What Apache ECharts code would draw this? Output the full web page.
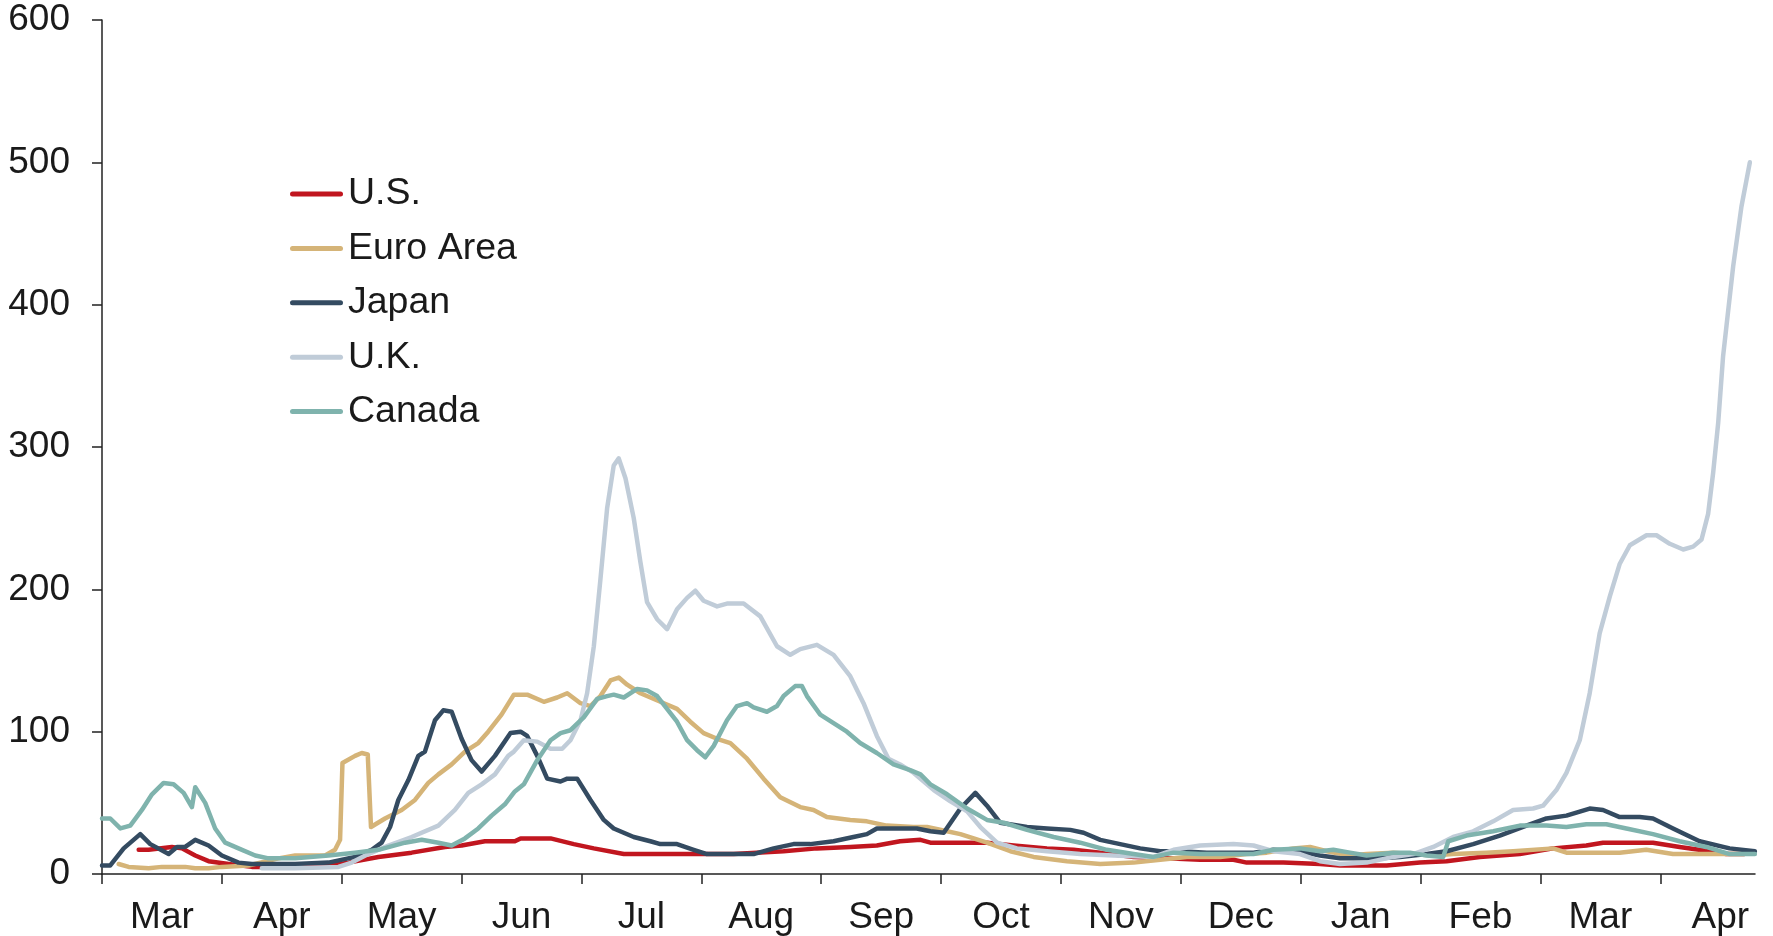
<!DOCTYPE html>
<html>
<head>
<meta charset="utf-8">
<script src="https://cdn.jsdelivr.net/npm/echarts@6/dist/echarts.min.js"></script>
<style>
    html, body { margin: 0; padding: 0; background: #fff; }
    #chart { width: 1773px; height: 936px; }
</style>
</head>
<body>
<div id="chart"></div>
<script>
// x values are in months since the start of the first March
const months = ['Mar', 'Apr', 'May', 'Jun', 'Jul', 'Aug', 'Sep', 'Oct', 'Nov', 'Dec', 'Jan', 'Feb', 'Mar', 'Apr'];

const us = [
    [0.306, 17], [0.389, 17], [0.583, 19], [0.667, 18], [0.778, 13], [0.889, 9], [1.056, 7], [1.25, 5], [1.611, 5],
    [1.889, 6], [2.056, 8], [2.306, 12], [2.583, 15], [2.861, 19], [3.0, 20], [3.194, 23], [3.444, 23], [3.492, 25],
    [3.742, 25], [3.936, 21], [4.103, 18], [4.353, 14], [4.714, 14], [5.269, 14], [5.686, 16], [5.964, 18], [6.242, 19],
    [6.464, 20], [6.658, 23], [6.828, 24], [6.911, 22], [7.383, 22], [7.606, 20], [7.883, 18], [8.106, 17], [8.328, 15],
    [8.606, 12], [8.883, 11], [9.161, 10], [9.439, 10], [9.55, 8], [9.856, 8], [10.161, 7], [10.328, 6], [10.717, 6],
    [10.994, 8], [11.217, 9], [11.494, 12], [11.828, 14], [12.106, 18], [12.383, 20], [12.522, 22], [12.939, 22],
    [13.161, 19], [13.411, 16], [13.55, 14], [13.7, 14],
];

const euroArea = [
    [0.139, 7], [0.222, 5], [0.389, 4], [0.5, 5], [0.694, 5], [0.778, 4], [0.889, 4], [1.0, 5], [1.222, 6], [1.472, 11],
    [1.611, 13], [1.861, 13], [1.944, 17], [1.986, 24], [2.006, 78], [2.111, 83], [2.167, 85], [2.217, 84], [2.244, 33],
    [2.361, 39], [2.5, 45], [2.611, 52], [2.722, 64], [2.806, 70], [2.917, 77], [3.028, 86], [3.139, 92], [3.222, 100],
    [3.333, 112], [3.436, 126], [3.547, 126], [3.686, 121], [3.797, 124], [3.881, 127], [3.992, 120], [4.075, 118],
    [4.158, 125], [4.242, 136], [4.311, 138], [4.381, 133], [4.492, 127], [4.658, 121], [4.797, 116], [4.908, 107],
    [5.019, 99], [5.131, 95], [5.242, 92], [5.381, 81], [5.519, 67], [5.658, 54], [5.825, 47], [5.936, 45], [6.047, 40],
    [6.242, 38], [6.381, 37], [6.547, 34], [6.769, 33], [6.883, 33], [7.05, 30], [7.161, 28], [7.383, 22], [7.578, 16],
    [7.772, 12], [8.05, 9], [8.328, 7], [8.606, 8], [8.828, 10], [9.05, 12], [9.328, 12], [9.55, 14], [9.717, 15],
    [9.939, 18], [10.078, 19], [10.217, 16], [10.411, 13], [10.55, 14], [10.772, 15], [11.106, 13], [11.272, 14],
    [11.55, 15], [11.772, 16], [12.106, 18], [12.217, 15], [12.661, 15], [12.883, 17], [13.106, 14], [13.439, 14], [13.7, 14],
];

const japan = [
    [0, 6], [0.069, 6], [0.181, 18], [0.319, 28], [0.403, 21], [0.556, 14], [0.625, 19], [0.694, 19], [0.778, 24],
    [0.889, 20], [1.0, 13], [1.139, 8], [1.25, 7], [1.611, 7], [1.889, 8], [2.111, 12], [2.25, 17], [2.333, 22],
    [2.403, 33], [2.472, 52], [2.556, 66], [2.639, 83], [2.694, 86], [2.778, 108], [2.847, 115], [2.917, 114], [3.0, 95],
    [3.083, 80], [3.167, 72], [3.278, 83], [3.408, 99], [3.492, 100], [3.547, 97], [3.631, 83], [3.714, 67], [3.825, 65],
    [3.881, 67], [3.964, 67], [4.075, 52], [4.186, 38], [4.269, 32], [4.436, 26], [4.575, 23], [4.658, 21], [4.797, 21],
    [4.936, 17], [5.047, 14], [5.214, 14], [5.436, 14], [5.603, 18], [5.769, 21], [5.908, 21], [6.103, 23], [6.269, 26],
    [6.381, 28], [6.464, 32], [6.797, 32], [6.911, 30], [7.022, 29], [7.161, 46], [7.286, 57], [7.383, 48], [7.494, 36],
    [7.717, 33], [7.883, 32], [8.078, 31], [8.189, 29], [8.328, 24], [8.494, 21], [8.661, 18], [8.828, 16], [8.994, 16],
    [9.217, 15], [9.439, 15], [9.606, 15], [9.772, 17], [9.994, 16], [10.161, 13], [10.328, 11], [10.494, 11],
    [10.661, 11], [10.828, 12], [11.05, 14], [11.217, 16], [11.439, 21], [11.661, 27], [11.883, 34], [12.05, 39],
    [12.217, 41], [12.411, 46], [12.522, 45], [12.661, 40], [12.828, 40], [12.939, 39], [13.106, 32], [13.328, 23],
    [13.578, 18], [13.789, 16],
];

const uk = [
    [1.333, 4], [1.611, 4], [1.972, 5], [2.083, 8], [2.222, 14], [2.389, 20], [2.583, 26], [2.806, 34], [2.944, 45],
    [3.056, 57], [3.167, 63], [3.278, 70], [3.389, 83], [3.436, 86], [3.519, 94], [3.631, 93], [3.742, 88], [3.839, 88],
    [3.908, 94], [3.992, 108], [4.047, 127], [4.103, 160], [4.158, 207], [4.214, 257], [4.269, 287], [4.311, 292],
    [4.367, 278], [4.436, 250], [4.492, 219], [4.547, 191], [4.631, 179], [4.714, 172], [4.797, 186], [4.881, 194],
    [4.95, 199], [5.019, 192], [5.131, 188], [5.214, 190], [5.353, 190], [5.492, 181], [5.631, 160], [5.742, 154],
    [5.825, 158], [5.964, 161], [6.103, 154], [6.242, 139], [6.353, 120], [6.464, 97], [6.561, 81], [6.658, 77],
    [6.772, 71], [6.939, 59], [7.078, 51], [7.217, 44], [7.328, 33], [7.467, 22], [7.633, 18], [7.883, 16], [8.161, 14],
    [8.439, 13], [8.772, 12], [8.939, 17], [9.161, 20], [9.439, 21], [9.606, 20], [9.772, 16], [9.994, 14], [10.161, 9],
    [10.328, 7], [10.55, 8], [10.772, 12], [10.939, 14], [11.106, 19], [11.272, 26], [11.439, 30], [11.606, 37],
    [11.772, 45], [11.939, 46], [12.022, 48], [12.133, 59], [12.217, 71], [12.328, 94], [12.411, 127], [12.494, 169],
    [12.579, 195], [12.662, 218], [12.746, 231], [12.885, 238], [12.968, 238], [13.079, 232], [13.191, 228],
    [13.274, 230], [13.344, 235], [13.399, 253], [13.441, 282], [13.483, 317], [13.524, 364], [13.552, 385],
    [13.608, 427], [13.677, 469], [13.747, 500],
];

const canada = [
    [0, 39], [0.069, 39], [0.153, 32], [0.236, 34], [0.333, 45], [0.417, 56], [0.514, 64], [0.597, 63], [0.681, 57],
    [0.75, 47], [0.778, 61], [0.861, 50], [0.944, 32], [1.028, 22], [1.139, 18], [1.278, 13], [1.389, 11], [1.611, 11],
    [1.889, 13], [2.111, 15], [2.306, 17], [2.528, 22], [2.667, 24], [2.806, 22], [2.917, 20], [3.028, 25], [3.139, 32],
    [3.25, 41], [3.361, 49], [3.444, 58], [3.519, 63], [3.631, 80], [3.742, 94], [3.825, 99], [3.908, 101], [4.019, 110],
    [4.131, 123], [4.214, 125], [4.269, 126], [4.353, 124], [4.464, 130], [4.547, 129], [4.631, 125], [4.714, 116],
    [4.797, 107], [4.881, 94], [4.964, 87], [5.033, 82], [5.103, 90], [5.214, 108], [5.297, 118], [5.381, 120],
    [5.436, 117], [5.547, 114], [5.631, 118], [5.686, 125], [5.783, 132], [5.839, 132], [5.881, 125], [5.992, 112],
    [6.103, 106], [6.214, 100], [6.325, 92], [6.464, 85], [6.603, 77], [6.742, 73], [6.828, 70], [6.911, 63], [7.05, 56],
    [7.217, 46], [7.383, 38], [7.522, 36], [7.717, 31], [7.939, 26], [8.161, 22], [8.383, 17], [8.606, 14], [8.772, 12],
    [8.939, 15], [9.161, 14], [9.383, 14], [9.606, 14], [9.772, 17], [9.994, 18], [10.161, 16], [10.272, 17],
    [10.411, 15], [10.55, 13], [10.772, 15], [10.911, 15], [11.05, 13], [11.189, 12], [11.231, 23], [11.383, 27],
    [11.606, 30], [11.828, 34], [12.05, 34], [12.217, 33], [12.383, 35], [12.55, 35], [12.717, 32], [12.939, 28],
    [13.161, 23], [13.383, 19], [13.578, 14], [13.789, 14],
];

const seriesList = [
    { name: 'U.S.', data: us, color: '#C1161F' },
    { name: 'Euro Area', data: euroArea, color: '#D5B478' },
    { name: 'Japan', data: japan, color: '#344B61' },
    { name: 'U.K.', data: uk, color: '#C0CCD8' },
    { name: 'Canada', data: canada, color: '#7FB3AD' },
];

const fontFamily = '"Liberation Sans", Arial, sans-serif';
const axisColor = '#222';
const textColor = '#1a1a1a';

const chart = echarts.init(document.getElementById('chart'));

chart.setOption({
    animation: false,
    backgroundColor: '#fff',
    grid: {
        left: 102,
        right: 18,
        top: 20,
        bottom: 62,
        outerBoundsMode: 'none',
    },
    legend: {
        orient: 'vertical',
        left: 290,
        top: 175,
        // rounded bar instead of the default line + dot
        icon: 'path://M2.5,0 L50.5,0 A2.5,2.5 0 0 1 50.5,5 L2.5,5 A2.5,2.5 0 0 1 2.5,0 Z',
        itemWidth: 53,
        itemHeight: 5,
        itemGap: 16.4,
        padding: 0,
        textStyle: { fontSize: 37.5, color: textColor, fontFamily: fontFamily },
        data: seriesList.map(s => s.name),
    },
    xAxis: {
        type: 'value',
        min: 0,
        max: 13.79,
        splitLine: { show: false },
        axisLine: { show: true, lineStyle: { color: axisColor, width: 1.5 } },
        axisTick: {
            show: true,
            length: 10,
            lineStyle: { color: axisColor, width: 1.5 },
            customValues: months.map((m, i) => i),
        },
        axisLabel: {
            fontSize: 37,
            color: textColor,
            fontFamily: fontFamily,
            margin: 25,
            customValues: months.map((m, i) => i + 0.5),
            formatter: v => months[Math.floor(v)] || '',
        },
    },
    yAxis: {
        type: 'value',
        min: 0,
        max: 600,
        interval: 100,
        splitLine: { show: false },
        axisLine: { show: true, lineStyle: { color: axisColor, width: 1.5 } },
        axisTick: { show: true, length: 10, lineStyle: { color: axisColor, width: 1.5 } },
        axisLabel: { fontSize: 37, color: textColor, fontFamily: fontFamily, margin: 32 },
    },
    series: seriesList.map(s => ({
        name: s.name,
        type: 'line',
        data: s.data,
        symbol: 'none',
        smooth: false,
        color: s.color,
        itemStyle: { color: s.color },
        lineStyle: { width: 4.5, color: s.color, cap: 'round', join: 'round' },
    })),
});
</script>
</body>
</html>
